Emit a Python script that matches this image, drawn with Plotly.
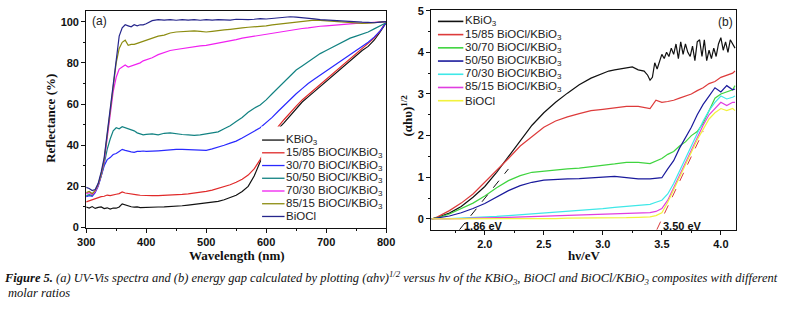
import plotly.graph_objects as go

W, H = 786, 312

# ---------------- Panel (a) data: UV-Vis reflectance ----------------
wavelength = [300, 305, 310, 315, 320, 325, 330, 335, 340, 345, 350, 355, 360, 365, 370, 375, 380, 385, 390, 395, 400,
              410, 420, 430, 440, 450, 460, 470, 480, 490, 500, 510, 520, 530, 540, 550, 560, 570, 580, 590, 600,
              610, 620, 630, 640, 650, 660, 670, 680, 690, 700, 710, 720, 730, 740, 750, 760, 770, 780, 790, 800]

refl_kbio3 = [10, 9.5, 10.2, 9.3, 9.8, 10, 9.2, 9.6, 9, 9.5, 9.4, 10, 11.5, 11, 10.4, 10.1, 9.9, 10, 9.7, 9.8, 9.8,
              9.9, 10, 10.1, 10.2, 10.4, 10.6, 10.9, 11.2, 11.5, 11.8, 12.2, 12.7, 13.5, 14.5, 15.7, 17.5, 20, 25, 32, 37.5,
              43, 48, 51, 54.5, 58, 61, 63.5, 66, 68.5, 71, 73.5, 76, 78.5, 81, 83.5, 86, 88, 91, 95, 99.5]
refl_15_85 = [12.5, 13, 13.5, 14.2, 14.5, 15, 15.2, 15.8, 15.5, 16, 16.2, 16.5, 17.3, 16.8, 16.5, 16.2, 16, 15.9, 15.7, 15.6, 15.5,
              15.5, 15.5, 15.6, 15.7, 15.9, 16.1, 16.4, 16.7, 17.1, 17.6, 18.2, 19, 19.8, 20.8, 22, 23.5, 25.5, 28.5, 33, 38.5,
              44, 49, 52.5, 56, 59, 62, 64.5, 67, 69.5, 72, 74.5, 77, 79.5, 82, 84.5, 87, 89.5, 92, 95.5, 100]
refl_30_70 = [15, 15.5, 15.2, 17, 20, 24.5, 30, 33, 34, 35.5, 36, 37, 38, 37.5, 37, 36.8, 36.5, 37, 37, 37.2, 37,
              37, 37.3, 37.5, 37.8, 38, 38, 37.8, 37.6, 37.4, 37.5, 38.2, 39, 40, 41, 42, 43.5, 45, 46.8, 48.5, 51,
              53.5, 56.5, 59.5, 62.5, 65, 67.5, 70, 72, 74, 76, 78, 80, 82, 84, 86, 88, 90, 92.5, 95.5, 99.5]
refl_50_50 = [15.5, 16, 15.5, 17.5, 20.5, 25, 31, 38, 43, 47, 48.5, 48, 49, 48.5, 48, 47.5, 47, 46, 45.5, 45, 45.3,
              45.5, 45, 45.8, 46, 45.5, 45.2, 45, 44.8, 45, 45.5, 46, 46.5, 48, 49.5, 51.5, 53.5, 56, 58, 59.5, 62,
              65, 68, 71, 74, 76.5, 78.5, 80.5, 82.5, 84.5, 86, 87.5, 89, 90.5, 92, 93, 94, 95, 96.5, 98, 99.5]
refl_70_30 = [16.5, 17, 16, 17.5, 20.5, 25.5, 32, 43, 55, 66, 73, 77, 78, 79, 78, 78.5, 79, 79.5, 80, 81, 81.5,
              82.5, 84, 85, 86, 86.5, 87, 87.5, 88, 88.3, 88.5, 89, 89.5, 90, 90.7, 91.3, 92, 92.5, 93, 93.5, 94,
              94.5, 95, 95.5, 96, 96.3, 96.7, 97, 97.5, 97.8, 98, 98.3, 98.5, 98.8, 99, 99.2, 99.3, 99.5, 99.5, 99.7, 100]
refl_85_15 = [17, 17.5, 16.5, 18, 21, 26, 33, 45, 58, 70, 80, 87, 90, 91, 88.5, 89, 89, 89.5, 90, 90.5, 91,
              92, 93, 93.5, 94.5, 95, 95.2, 95.5, 95.5, 95.3, 95, 95.3, 95.5, 96, 96.3, 96.5, 97, 97.3, 97.5, 97.8, 98,
              98.5, 98.8, 99.2, 99.5, 100, 100.3, 100.6, 100.8, 100.6, 100.4, 100.2, 100, 99.8, 99.5, 99.3, 99.2, 99.3, 99.5, 99.7, 100]
refl_biocl = [19.5, 19, 18, 18.5, 21.5, 27, 34, 46, 60, 72, 84, 93, 97, 98.5, 98, 97.5, 98.5, 98, 98.5, 98.5, 99,
              100.5, 101, 100.8, 101, 100.7, 101, 100.8, 101, 100.7, 101, 100.8, 101, 101, 100.8, 101.2, 101, 101, 101.2, 101.5, 101.3,
              101.6, 102, 102.2, 102.4, 102.2, 102, 101.7, 101.4, 101, 100.8, 100.6, 100.3, 100.2, 100, 100, 99.8, 99.7, 99.5, 99.8, 100]

series_a_names = ["KBiO<sub>3</sub>", "15/85 BiOCl/KBiO<sub>3</sub>", "30/70 BiOCl/KBiO<sub>3</sub>",
                  "50/50 BiOCl/KBiO<sub>3</sub>", "70/30 BiOCl/KBiO<sub>3</sub>", "85/15 BiOCl/KBiO<sub>3</sub>", "BiOCl"]
series_a_values = [refl_kbio3, refl_15_85, refl_30_70, refl_50_50, refl_70_30, refl_85_15, refl_biocl]
colors_a = ["#111111", "#e02a2a", "#2a2aff", "#128282", "#f020f0", "#8c8c10", "#26268c"]

# ---------------- Panel (b) data: (alpha h nu)^(1/2) vs h nu ----------------
hv_kbio3 = [1.55, 1.6, 1.7, 1.8, 1.9, 2.0, 2.1, 2.2, 2.3, 2.4, 2.5, 2.6, 2.7, 2.8, 2.9, 3.0,
            3.05, 3.1, 3.15, 3.2, 3.25, 3.3, 3.35, 3.38, 3.4, 3.42, 3.44, 3.46,
            3.5, 3.52, 3.54, 3.56, 3.58, 3.6, 3.62, 3.64, 3.66, 3.68, 3.7, 3.72, 3.74, 3.76, 3.78, 3.8,
            3.82, 3.84, 3.86, 3.88, 3.9, 3.92, 3.94, 3.96, 3.98, 4.0, 4.02, 4.04, 4.06, 4.08, 4.1, 4.12]
ahv_kbio3 = [0, 0.04, 0.14, 0.3, 0.52, 0.78, 1.12, 1.5, 1.9, 2.25, 2.55, 2.8, 3.02, 3.22, 3.38, 3.5,
             3.55, 3.58, 3.6, 3.62, 3.65, 3.58, 3.55, 3.45, 3.33, 3.4, 3.75, 3.6,
             3.95, 3.85, 4.0, 3.9, 4.1, 3.95, 4.2, 3.85, 4.25, 3.95, 4.2, 4.0, 3.9, 4.15, 3.8, 4.25,
             4.3, 3.9, 4.3, 3.8, 4.05, 3.85, 4.1, 3.9, 4.2, 4.35, 4.05, 4.25, 4.0, 4.3, 4.2, 4.1]

hv = [1.55, 1.6, 1.7, 1.8, 1.9, 2.0, 2.1, 2.2, 2.3, 2.4, 2.5, 2.6, 2.7, 2.8, 2.9, 3.0, 3.1, 3.2, 3.3, 3.4,
      3.45, 3.5, 3.55, 3.6, 3.65, 3.7, 3.75, 3.8, 3.85, 3.9, 3.95, 4.0, 4.05, 4.1, 4.12]
ahv_15_85 = [0, 0.05, 0.2, 0.38, 0.6, 0.88, 1.15, 1.45, 1.75, 1.98, 2.2, 2.35, 2.45, 2.53, 2.6, 2.63, 2.66, 2.7, 2.7, 2.65,
             2.85, 2.8, 2.82, 2.85, 2.9, 2.95, 3.0, 3.08, 3.15, 3.25, 3.3, 3.4, 3.45, 3.5, 3.55]
ahv_30_70 = [0, 0.03, 0.12, 0.25, 0.38, 0.55, 0.75, 0.92, 1.04, 1.12, 1.15, 1.18, 1.2, 1.22, 1.25, 1.28, 1.32, 1.36, 1.36, 1.33,
             1.4, 1.45, 1.55, 1.62, 1.75, 1.85, 2.0, 2.1, 2.3, 2.6, 2.9, 3.0, 3.05, 3.1, 3.2]
ahv_50_50 = [0, 0.02, 0.07, 0.15, 0.25, 0.37, 0.52, 0.68, 0.8, 0.88, 0.93, 0.95, 0.96, 0.97, 0.99, 1.01, 1.02, 0.99, 0.96, 0.96,
             0.97, 0.99, 1.2, 1.4, 1.7, 1.95, 2.2, 2.5, 2.75, 2.95, 3.15, 3.05, 3.2, 3.1, 3.12]
ahv_70_30 = [0, 0.01, 0.01, 0.02, 0.03, 0.05, 0.06, 0.08, 0.1, 0.12, 0.14, 0.16, 0.18, 0.2, 0.22, 0.25, 0.28, 0.3, 0.33, 0.35,
             0.4, 0.45, 0.6, 0.85, 1.15, 1.45, 1.75, 2.05, 2.35, 2.6, 2.8, 2.95, 2.88, 2.92, 2.95]
ahv_85_15 = [0, 0, 0.01, 0.01, 0.02, 0.02, 0.03, 0.04, 0.05, 0.05, 0.06, 0.07, 0.08, 0.09, 0.1, 0.11, 0.12, 0.14, 0.15, 0.15,
             0.18, 0.25, 0.45, 0.75, 1.05, 1.35, 1.65, 1.95, 2.25, 2.5, 2.65, 2.8, 2.72, 2.8, 2.8]
ahv_biocl = [0, 0, 0, 0, 0, 0, 0, 0.01, 0.01, 0.01, 0.01, 0.01, 0.02, 0.02, 0.02, 0.02, 0.03, 0.03, 0.04, 0.05,
             0.08, 0.15, 0.4, 0.7, 1.0, 1.3, 1.6, 1.9, 2.15, 2.4, 2.55, 2.65, 2.6, 2.65, 2.6]

series_b_names = series_a_names
series_b_x = [hv_kbio3, hv, hv, hv, hv, hv, hv]
series_b_values = [ahv_kbio3, ahv_15_85, ahv_30_70, ahv_50_50, ahv_70_30, ahv_85_15, ahv_biocl]
colors_b = ["#111111", "#dd3b3b", "#3fd43f", "#1a1a9c", "#3fe8e8", "#e03ee0", "#f2f23c"]

# tangent lines (band-gap extrapolation)
tangent_kbio3_x = [1.785, 2.2]
tangent_kbio3_y = [-0.26, 1.2]
tangent_biocl_x = [3.457, 3.85]
tangent_biocl_y = [-0.26, 2.1]
gap_labels = ["1.86 eV", "3.50 eV"]


def px(x):
    return x / W


def py(y):
    return 1 - y / H


fig = go.Figure()

for name, vals, col in zip(series_a_names, series_a_values, colors_a):
    fig.add_trace(go.Scatter(x=wavelength, y=vals, mode="lines", name=name,
                             line=dict(color=col, width=1.2), xaxis="x", yaxis="y", showlegend=False))

for name, xs, vals, col in zip(series_b_names, series_b_x, series_b_values, colors_b):
    fig.add_trace(go.Scatter(x=xs, y=vals, mode="lines", name=name,
                             line=dict(color=col, width=1.2), xaxis="x2", yaxis="y2", showlegend=False))

fig.add_trace(go.Scatter(x=tangent_kbio3_x, y=tangent_kbio3_y, mode="lines",
                         line=dict(color="#111111", width=1, dash="dash"), xaxis="x2", yaxis="y2", showlegend=False))
fig.add_trace(go.Scatter(x=tangent_biocl_x, y=tangent_biocl_y, mode="lines",
                         line=dict(color="#d83a3a", width=1, dash="dash"), xaxis="x2", yaxis="y2", showlegend=False))

tickfont = dict(family="Liberation Sans, Arial", size=11, color="#111111", weight="bold")
axis_common = dict(showline=True, linecolor="#111111", linewidth=1, mirror=True, ticks="outside",
                   ticklen=4, tickwidth=1, tickcolor="#111111", showgrid=False, zeroline=False,
                   tickfont=tickfont, ticklabeloverflow="allow")

fig.update_layout(
    width=W, height=H, margin=dict(l=0, r=0, t=0, b=0),
    paper_bgcolor="white", plot_bgcolor="white", showlegend=False,
    xaxis=dict(domain=[px(79), px(386)], range=[300, 800], tickvals=[300, 400, 500, 600, 700, 800],
               minor=dict(tickvals=[350, 450, 550, 650, 750], ticks="outside", ticklen=2.5, tickcolor="#111111"),
               anchor="y", **axis_common),
    yaxis=dict(domain=[py(230.7), py(6)], range=[0, 105.3], tickvals=[0, 20, 40, 60, 80, 100],
               minor=dict(tickvals=[10, 30, 50, 70, 90], ticks="outside", ticklen=2.5, tickcolor="#111111"),
               anchor="x", **axis_common),
    xaxis2=dict(domain=[px(432), px(744)], range=[1.545, 4.128], tickvals=[2.0, 2.5, 3.0, 3.5, 4.0],
                ticktext=["2.0", "2.5", "3.0", "3.5", "4.0"],
                minor=dict(tickvals=[1.75, 2.25, 2.75, 3.25, 3.75], ticks="outside", ticklen=2.5, tickcolor="#111111"),
                anchor="y2", **axis_common),
    yaxis2=dict(domain=[py(233), py(5)], range=[-0.26, 5.02], tickvals=[0, 1, 2, 3, 4, 5],
                minor=dict(tickvals=[0.5, 1.5, 2.5, 3.5, 4.5], ticks="outside", ticklen=2.5, tickcolor="#111111"),
                anchor="x2", **axis_common),
)

shapes = []
annotations = []


def note(xp, yp, text, font, xanchor="center", textangle=0):
    annotations.append(dict(x=px(xp), y=py(yp), xref="paper", yref="paper", text=text, showarrow=False,
                            xanchor=xanchor, yanchor="middle", textangle=textangle, font=font, borderpad=0))


# white box behind legend (a), covering the curves as in the original
shapes.append(dict(type="rect", xref="paper", yref="paper", x0=px(258), x1=px(385), y0=py(228), y1=py(126),
                   fillcolor="white", line=dict(width=0), layer="above"))

legend_font = dict(family="Liberation Sans, Arial", size=11.5, color="#222222")

# legend (a)
for i, (name, col) in enumerate(zip(series_a_names, colors_a)):
    yy = 140 + 13.2 * i
    shapes.append(dict(type="line", xref="paper", yref="paper", x0=px(259), x1=px(282), y0=py(yy), y1=py(yy),
                       line=dict(color=col, width=1.3), layer="above"))
    note(282.5, yy, name, legend_font, xanchor="left")

# legend (b)
for i, (name, col) in enumerate(zip(series_b_names, colors_b)):
    yy = 17 + 13.7 * i
    shapes.append(dict(type="line", xref="paper", yref="paper", x0=px(439), x1=px(465), y0=py(yy), y1=py(yy),
                       line=dict(color=col, width=1.6), layer="above"))
    note(465.5, yy, name, legend_font, xanchor="left")

# panel labels
label_font = dict(family="Liberation Sans, Arial", size=12, color="#222222")
note(93, 16.5, "(a)", label_font)
note(733, 18, "(b)", label_font)

# band-gap labels
gap_font = dict(family="Liberation Sans, Arial", size=11, color="#111111", weight="bold")
note(486, 229, gap_labels[0], gap_font)
note(689, 229, gap_labels[1], gap_font)

# axis titles
title_font = dict(family="Liberation Serif, Times New Roman", size=13, color="#111111", weight="bold")
note(233, 259.5, "Wavelength (nm)", title_font)
note(43, 118, "Reflectance (%)", title_font, textangle=-90)
note(588, 259.5, "hν/eV", title_font)
note(407, 115, "(αhυ)<sup>1/2</sup>", title_font, textangle=-90)

# caption (centred on the span it occupies in the original)
cap_font = dict(family="Liberation Serif, Times New Roman", size=12.5, color="#111111")
note(391, 283, "<b><i>Figure 5.</i></b><i> (a) UV-Vis spectra and (b) energy gap calculated by plotting "
               "(αhν)<sup>1/2</sup> versus hν of the KBiO<sub>3</sub>, BiOCl and BiOCl/KBiO<sub>3</sub> "
               "composites with different</i>", cap_font)
note(31, 298.5, "<i>molar ratios</i>", cap_font)

fig.update_layout(shapes=shapes, annotations=annotations)

fig.write_html("out.html", config={"displayModeBar": False},
               post_script="document.body.style.margin='0';")
